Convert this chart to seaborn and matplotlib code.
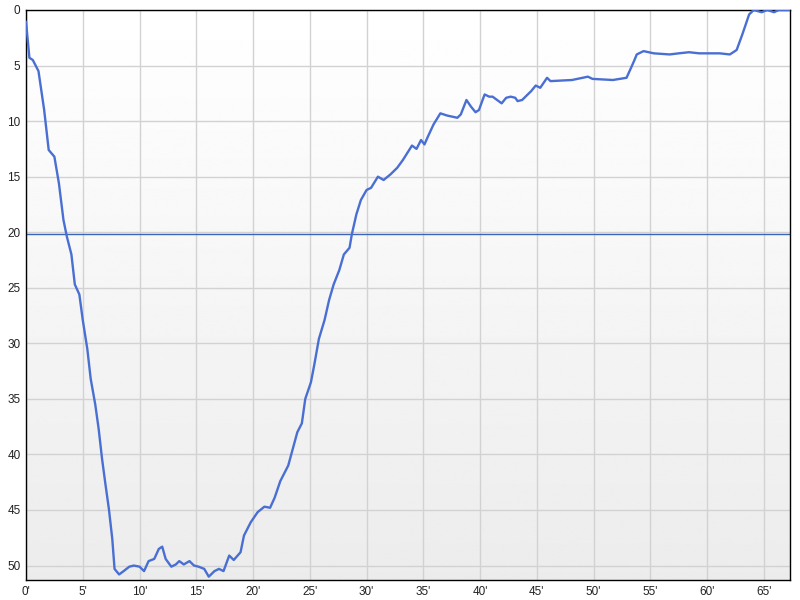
import numpy as np
import pandas as pd
import matplotlib
matplotlib.use("Agg")
import matplotlib.pyplot as plt
import seaborn as sns

# time in minutes, depth-like value (axis inverted)
minutes = [0.0, 0.0, 0.3, 0.6, 1.1, 1.6, 2.0, 2.5, 2.9, 3.3, 3.6, 4.0,
           4.3, 4.7, 5.0, 5.4, 5.7, 6.1, 6.4, 6.7, 7.0, 7.3, 7.6, 7.8, 8.2, 8.6, 9.1,
           9.5, 10.0, 10.4, 10.8, 11.3, 11.7, 12.0, 12.3, 12.8, 13.2, 13.5, 13.9, 14.4,
           14.8, 15.2, 15.7, 16.1, 16.6, 17.0, 17.4, 17.9, 18.3, 18.9, 19.2, 19.8, 20.4,
           21.0, 21.5, 21.9, 22.4, 23.1, 23.5, 23.9, 24.3, 24.6, 25.1, 25.4, 25.8,
           26.3, 26.7, 27.1, 27.6, 28.0, 28.5, 28.7, 29.1, 29.5, 30.0, 30.4, 31.0, 31.5,
           32.1, 32.7, 33.2, 34.0, 34.4, 34.8, 35.1, 35.4, 35.9, 36.5, 37.1, 38.0, 38.3,
           38.8, 39.2, 39.6, 39.9, 40.4, 40.8, 41.1, 41.9, 42.3, 42.7, 43.1, 43.3, 43.7,
           44.5, 44.9, 45.3, 45.9, 46.2, 48.1, 49.5, 49.9, 51.7, 52.9, 53.3, 53.6,
           53.8, 54.4, 55.3, 56.7, 57.5, 58.4, 59.3, 61.1, 62.0, 62.6, 63.1, 63.7, 64.1,
           64.8, 65.3, 65.9, 66.3, 67.3]
values = [0.0, 2.1, 4.3, 4.5, 5.5, 9.0, 12.6, 13.2, 15.6, 18.9, 20.4, 22.0,
          24.7, 25.6, 27.9, 30.5, 33.2, 35.5, 37.7, 40.4, 42.7, 44.9, 47.6, 50.3, 50.8, 50.5, 50.1,
          50.0, 50.1, 50.5, 49.6, 49.4, 48.5, 48.3, 49.4, 50.1, 49.9, 49.6, 49.9, 49.6,
          50.0, 50.1, 50.3, 51.0, 50.5, 50.3, 50.5, 49.1, 49.5, 48.8, 47.3, 46.1, 45.2,
          44.7, 44.8, 43.9, 42.4, 41.0, 39.5, 38.0, 37.2, 35.0, 33.5, 31.9, 29.6,
          27.9, 26.1, 24.7, 23.4, 22.0, 21.4, 20.2, 18.4, 17.1, 16.2, 16.0, 15.0, 15.3,
          14.8, 14.2, 13.5, 12.2, 12.5, 11.7, 12.1, 11.4, 10.3, 9.3, 9.5, 9.7, 9.4,
          8.1, 8.7, 9.2, 9.0, 7.6, 7.8, 7.8, 8.4, 7.9, 7.8, 7.9, 8.2, 8.1,
          7.3, 6.8, 7.0, 6.1, 6.4, 6.3, 6.0, 6.2, 6.3, 6.1, 5.2, 4.5,
          4.0, 3.7, 3.9, 4.0, 3.9, 3.8, 3.9, 3.9, 4.0, 3.6, 2.2, 0.4, 0.0,
          0.2, 0.0, 0.2, 0.0, 0.0]
reference_level = 20.2
x_ticks = list(range(0, 70, 5))
y_ticks = list(range(0, 55, 5))

df = pd.DataFrame({"minute": minutes, "value": values})

sns.set_style("white")
plt.rcParams["font.family"] = ["Liberation Sans", "DejaVu Sans"]

fig = plt.figure(figsize=(8, 6), dpi=100)
ax = fig.add_axes([26 / 800, 20 / 600, 764 / 800, 570 / 600])

xmax, ymax = 67.3, 51.3
grad = np.linspace(1.0, 0.925, 256).reshape(-1, 1)
ax.imshow(grad, cmap="gray", vmin=0, vmax=1, aspect="auto",
          extent=[0, xmax, ymax, 0], zorder=0, interpolation="bilinear")

sns.lineplot(data=df, x="minute", y="value", ax=ax, color="#4a6fd2",
             linewidth=1.7, zorder=3, sort=False)
ax.axhline(reference_level, color="#3a64b8", linewidth=1.0, zorder=2)

ax.set_xlim(0, xmax)
ax.set_ylim(ymax, 0)
ax.set_xticks(x_ticks)
ax.set_xticklabels([f"{t}'" for t in x_ticks])
ax.set_yticks(y_ticks)
ax.grid(True, color="#d2d2d2", linewidth=1.0, zorder=1)
ax.set_axisbelow(True)
ax.tick_params(length=0, labelsize=8.5, colors="#222222", pad=4)
ax.set_xlabel("")
ax.set_ylabel("")
for s in ax.spines.values():
    s.set_color("black")
    s.set_linewidth(1.0)

fig.savefig("out.png", dpi=100)
